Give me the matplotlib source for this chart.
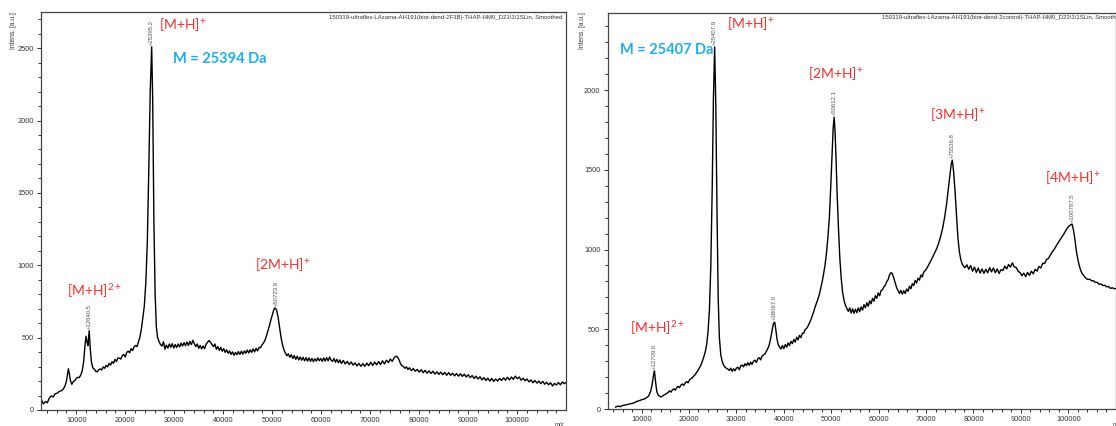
import matplotlib
matplotlib.use("Agg")
import matplotlib.pyplot as plt
from matplotlib.ticker import MultipleLocator

plt.rcParams['mathtext.fontset'] = 'custom'
plt.rcParams['mathtext.rm'] = 'Lato'
plt.rcParams['mathtext.bf'] = 'Lato:bold'

# ---------------- data: left spectrum (biot-dend-2F3B) ----------------
left_mz = [2900, 3300, 3700, 4100, 4500, 4900, 5300, 5700, 6100, 6500, 6900, 7300, 7700, 8000, 8200, 8400,
           8600, 8800, 9100, 9400, 9700, 10000, 10300, 10600, 10900, 11200, 11500, 11800, 12000, 12200, 12400,
           12640, 12850, 13100, 13400, 13700, 14000, 14300, 14600, 14900, 15200, 15500, 15800, 16100, 16400,
           16700, 17000, 17300, 17600, 17900, 18200, 18500, 18800, 19100, 19400, 19700, 20000, 20300, 20600,
           20900, 21200, 21500, 21800, 22100, 22400, 22700, 23000, 23300, 23600, 23900, 24200, 24500, 24800,
           25100, 25395, 25600, 25850, 26100, 26350, 26600, 26900, 27200, 27500, 27800, 28100, 28400, 28700,
           29000, 29300, 29600, 29900, 30200, 30500, 30800, 31100, 31400, 31700, 32000, 32300, 32600, 32900,
           33200, 33500, 33800, 34100, 34400, 34700, 35000, 35300, 35600, 35900, 36200, 36500, 36800, 37100,
           37400, 37700, 38000, 38300, 38600, 38900, 39200, 39500, 39800, 40100, 40400, 40700, 41000, 41300,
           41600, 41900, 42200, 42500, 42800, 43100, 43400, 43700, 44000, 44300, 44600, 44900, 45200, 45500,
           45800, 46100, 46400, 46700, 47000, 47300, 47600, 47900, 48200, 48500, 48800, 49100, 49400, 49700,
           50000, 50300, 50500, 50724, 50900, 51200, 51500, 51800, 52100, 52400, 52700, 53000, 53300, 53600,
           53900, 54200, 54500, 54800, 55100, 55400, 55700, 56000, 56300, 56600, 56900, 57200, 57500, 57800,
           58100, 58400, 58700, 59000, 59300, 59600, 59900, 60200, 60500, 60800, 61100, 61400, 61700, 62000,
           62300, 62600, 62900, 63200, 63500, 63800, 64100, 64500, 64900, 65300, 65700, 66100, 66500, 66900,
           67300, 67700, 68100, 68500, 68900, 69300, 69700, 70100, 70500, 70900, 71300, 71700, 72100, 72500,
           72900, 73300, 73700, 74100, 74500, 74900, 75300, 75600, 75900, 76200, 76500, 76800, 77100, 77400,
           77700, 78000, 78400, 78800, 79200, 79600, 80000, 80400, 80800, 81200, 81600, 82000, 82400, 82800,
           83200, 83600, 84000, 84400, 84800, 85200, 85600, 86000, 86400, 86800, 87200, 87600, 88000, 88400,
           88800, 89200, 89600, 90000, 90400, 90800, 91200, 91600, 92000, 92400, 92800, 93200, 93600, 94000,
           94400, 94800, 95200, 95600, 96000, 96400, 96800, 97200, 97600, 98000, 98400, 98800, 99200, 99600,
           100000, 100400, 100800, 101200, 101600, 102000, 102400, 102800, 103200, 103600, 104000, 104400,
           104800, 105200, 105600, 106000, 106400, 106800, 107200, 107600, 108000, 108400, 108800, 109200,
           109600, 110000]
left_int = [70, 42, 58, 50, 82, 98, 90, 112, 116, 128, 132, 142, 165, 200, 245, 285,
            250, 205, 178, 196, 203, 218, 226, 224, 240, 268, 330, 450, 510, 470, 445,
            548, 430, 330, 290, 282, 266, 264, 278, 284, 276, 298, 288, 308, 298,
            322, 310, 334, 322, 350, 334, 360, 358, 352, 376, 384, 366, 398, 406,
            396, 424, 410, 436, 446, 438, 472, 505, 560, 640, 720, 880, 1150, 1650,
            2200, 2510, 2150, 1300, 800, 575, 500, 472, 452, 442, 472, 420, 448, 428,
            456, 434, 458, 428, 452, 432, 456, 436, 462, 442, 466, 444, 470, 446,
            474, 452, 482, 458, 438, 456, 426, 446, 422, 442, 424, 454, 468, 480,
            468, 452, 438, 456, 420, 438, 412, 432, 406, 424, 398, 416, 392, 408,
            384, 402, 378, 398, 382, 404, 384, 406, 386, 408, 392, 414, 394, 416,
            398, 422, 402, 426, 408, 432, 430, 450, 462, 480, 510, 545, 580, 620,
            655, 690, 705, 700, 690, 640, 570, 500, 450, 415, 392, 375, 388, 364,
            382, 356, 376, 350, 372, 346, 366, 344, 364, 340, 362, 338, 360, 336,
            356, 334, 354, 338, 360, 340, 356, 336, 360, 338, 362, 340, 366, 344,
            336, 356, 330, 350, 326, 346, 322, 342, 318, 336, 314, 332, 310, 326,
            304, 322, 302, 320, 302, 324, 306, 330, 308, 332, 312, 334, 314, 340,
            318, 344, 328, 352, 336, 362, 372, 365, 345, 318, 305, 300, 288, 298,
            280, 292, 272, 286, 268, 280, 262, 278, 258, 274, 254, 270, 252, 268,
            248, 264, 246, 262, 244, 260, 240, 258, 240, 254, 236, 252, 234, 250,
            232, 248, 228, 244, 224, 238, 218, 234, 214, 230, 208, 224, 204, 220,
            200, 218, 198, 214, 200, 218, 204, 222, 206, 226, 208, 228, 212, 234,
            216, 228, 206, 220, 202, 214, 194, 208, 188, 204, 186, 200,
            182, 198, 178, 192, 174, 188, 166, 184, 172, 190, 174, 194,
            182, 192]

# ---------------- data: right spectrum (biot-dend-2control) ----------------
right_mz = [4500, 5000, 5500, 6000, 6500, 7000, 7500, 8000, 8500, 9000, 9500, 10000, 10500, 11000, 11500,
            11900, 12200, 12450, 12700, 12950, 13200, 13500, 13800, 14100, 14400, 14700, 15000, 15300, 15600,
            15900, 16200, 16500, 16800, 17100, 17400, 17700, 18000, 18300, 18600, 18900, 19200, 19500, 19800,
            20100, 20400, 20700, 21000, 21300, 21600, 21900, 22200, 22500, 22800, 23100, 23400, 23700, 24000,
            24300, 24600, 24900, 25150, 25408, 25650, 25900, 26150, 26400, 26700, 27000, 27300, 27600, 27900,
            28200, 28500, 28800, 29100, 29400, 29700, 30000, 30300, 30600, 30900, 31200, 31500, 31800, 32100,
            32400, 32700, 33000, 33300, 33600, 33900, 34200, 34500, 34800, 35100, 35400, 35700, 36000, 36300,
            36600, 36900, 37200, 37500, 37800, 38067, 38300, 38550, 38800, 39100, 39400, 39700, 40000, 40300,
            40600, 40900, 41200, 41500, 41800, 42100, 42400, 42700, 43000, 43300, 43600, 43900, 44200, 44500,
            44800, 45100, 45400, 45700, 46000, 46300, 46600, 46900, 47200, 47500, 47800, 48100, 48400, 48700,
            49000, 49300, 49600, 49900, 50200, 50400, 50612, 50800, 51000, 51200, 51500, 51800, 52100, 52400,
            52700, 53000, 53300, 53600, 53900, 54200, 54500, 54800, 55100, 55400, 55700, 56000, 56300, 56600,
            56900, 57200, 57500, 57800, 58100, 58400, 58700, 59000, 59300, 59600, 59900, 60200, 60500, 60800,
            61100, 61400, 61700, 62000, 62300, 62600, 62900, 63200, 63500, 63800, 64100, 64400, 64700, 65000,
            65300, 65600, 65900, 66200, 66500, 66800, 67100, 67400, 67700, 68000, 68300, 68600, 68900, 69200,
            69500, 69900, 70300, 70700, 71100, 71500, 71900, 72300, 72700, 73100, 73500, 73900, 74300, 74700,
            75000, 75300, 75527, 75800, 76100, 76400, 76700, 77000, 77300, 77600, 77900, 78200, 78600, 79000,
            79400, 79800, 80200, 80600, 81000, 81400, 81800, 82200, 82600, 83000, 83400, 83800, 84200, 84600,
            85000, 85400, 85800, 86200, 86600, 87000, 87400, 87800, 88200, 88600, 89000, 89400, 89800, 90200,
            90600, 91000, 91400, 91800, 92200, 92600, 93000, 93400, 93800, 94200, 94600, 95000, 95400, 95800,
            96200, 96600, 97000, 97400, 97800, 98200, 98600, 99000, 99400, 99800, 100200, 100500, 100787,
            101100, 101400, 101700, 102000, 102300, 102600, 102900, 103300, 103700, 104100, 104500, 104900,
            105300, 105700, 106100, 106500, 106900, 107300, 107700, 108100, 108500, 108900, 109300, 109700,
            110100, 110500, 110900]
right_int = [12, 18, 15, 22, 25, 28, 32, 35, 40, 48, 52, 58, 62, 70, 82,
             110, 150, 200, 240, 170, 110, 88, 80, 76, 80, 88, 92, 98, 104,
             114, 106, 120, 126, 118, 134, 142, 134, 150, 157, 148, 164, 172, 164,
             182, 190, 196, 207, 215, 230, 242, 258, 275, 298, 325, 355, 400, 480,
             620, 900, 1400, 1950, 2270, 1900, 1250, 700, 450, 340, 298, 275, 262, 255,
             250, 242, 256, 236, 252, 240, 256, 262, 246, 270, 276, 264, 284, 272,
             290, 274, 294, 280, 300, 306, 292, 314, 322, 308, 332, 338, 345, 362,
             378, 400, 440, 490, 535, 545, 500, 440, 405, 388, 376, 398, 378, 404,
             388, 414, 398, 424, 410, 436, 420, 450, 434, 462, 448, 474, 476, 498,
             505, 520, 540, 560, 585, 610, 640, 665, 690, 720, 760, 800, 850, 905,
             980, 1080, 1200, 1400, 1620, 1760, 1830, 1740, 1580, 1380, 1150, 950, 820, 730,
             680, 650, 630, 612, 634, 602, 628, 600, 626, 604, 634, 610, 640, 620,
             654, 634, 666, 644, 678, 660, 694, 676, 710, 694, 728, 710, 742, 748,
             766, 776, 798, 812, 842, 855, 848, 820, 790, 760, 742, 724, 744, 720,
             742, 724, 752, 738, 770, 754, 786, 774, 806, 790, 820, 808, 840, 828,
             858, 870, 890, 912, 935, 960, 985, 1010, 1045, 1085, 1135, 1200, 1280, 1380,
             1460, 1535, 1560, 1490, 1370, 1220, 1080, 990, 940, 910, 895, 886, 904, 876,
             900, 864, 890, 856, 884, 852, 878, 850, 876, 854, 886, 860, 884, 854,
             878, 850, 874, 868, 896, 878, 906, 890, 916, 890, 888, 864, 856, 836,
             852, 830, 856, 838, 864, 848, 876, 864, 894, 884, 914, 912, 938, 944,
             965, 985, 1000, 1020, 1040, 1058, 1075, 1095, 1115, 1135, 1148, 1155, 1160,
             1120, 1060, 990, 940, 900, 870, 850, 835, 820, 812, 814, 804,
             804, 794, 794, 782, 784, 774, 776, 766, 768, 756, 760, 754,
             756, 750, 755]

# peak labels (m/z value, intensity at label)
left_peaks = [12640.5, 25395.2, 50723.9]
left_peak_int = [548, 2510, 705]
right_peaks = [12709.6, 25407.9, 38067.0, 50612.1, 75526.8, 100787.5]
right_peak_int = [240, 2270, 545, 1830, 1560, 1160]

left_title = r"150319-ultraflex-LAzama-AH191(biot-dend-2F3B)-THAP-HM0_D21\1\1SLin, Smoothed"
right_title = r"150319-ultraflex-LAzama-AH191(biot-dend-2control)-THAP-HM0_D23\1\1SLin, Smoothed"

W, H = 1116, 426
fig = plt.figure(figsize=(W / 100, H / 100), dpi=100)


def fx(px):
    return px / W


def fy(py):
    return 1 - py / H


ax1 = fig.add_axes([fx(41.3), fy(410), fx(566 - 41.3), (410 - 12) / H])
ax2 = fig.add_axes([fx(607.7), fy(409), fx(1115.5 - 607.7), (409 - 13) / H])

for ax, mz, it, xl, yl in [(ax1, left_mz, left_int, (2870, 109950), (0, 2750)),
                           (ax2, right_mz, right_int, (2850, 109950), (0, 2483))]:
    ax.plot(mz, it, color='black', lw=1.0)
    ax.set_xlim(*xl)
    ax.set_ylim(*yl)
    ax.xaxis.set_major_locator(MultipleLocator(10000))
    ax.xaxis.set_minor_locator(MultipleLocator(2000))
    ax.yaxis.set_major_locator(MultipleLocator(500))
    ax.yaxis.set_minor_locator(MultipleLocator(100))
    ax.tick_params(which='both', direction='out', color='#333333', width=0.7,
                   labelsize=5.3, labelcolor='#333333', pad=2)
    ax.tick_params(which='major', length=3.2)
    ax.tick_params(which='minor', length=2.2)
    for lab in ax.get_xticklabels() + ax.get_yticklabels():
        lab.set_family('Liberation Sans')
    for s in ax.spines.values():
        s.set_color('#444444')
        s.set_linewidth(0.9)

# peak mass labels
for ax, pk, pi in [(ax1, left_peaks, left_peak_int), (ax2, right_peaks, right_peak_int)]:
    for m, v in zip(pk, pi):
        ax.annotate('+' + f"{m:.1f}", xy=(m, v), xytext=(0, 1.5), textcoords='offset points',
                    rotation=90, ha='center', va='bottom', fontsize=4.3, color='#555555',
                    family='Liberation Sans')

# header texts
fig.text(fx(562.7), fy(18), left_title, ha='right', va='center', fontsize=4.3,
         family='Liberation Sans', color='#333333')
fig.text(fx(881.7), fy(18), right_title, ha='left', va='center', fontsize=4.3,
         family='Liberation Sans', color='#333333')

# y labels
fig.text(fx(13.5), fy(12), 'Intens. [a.u.]', rotation=90, ha='center', va='top', fontsize=4.8,
         family='Liberation Sans', color='#333333')
fig.text(fx(583), fy(12), 'Intens. [a.u.]', rotation=90, ha='center', va='top', fontsize=4.8,
         family='Liberation Sans', color='#333333')
fig.text(fx(559), fy(425), 'm/z', ha='center', va='center', fontsize=4.3,
         family='Liberation Sans', color='#333333')
fig.text(fx(1113), fy(425), 'm/z', ha='left', va='center', fontsize=4.3,
         family='Liberation Sans', color='#333333')

red = '#FF2A2A'
blue = '#1AB0EE'
ion = dict(color=red, fontsize=10, family='Lato', va='center', ha='left')
fig.text(fx(159), fy(25), r'[M+H]$^{+}$', **ion)
fig.text(fx(67), fy(291), r'[M+H]$^{2+}$', **ion)
fig.text(fx(255), fy(265), r'[2M+H]$^{+}$', **ion)
fig.text(fx(727), fy(24), r'[M+H]$^{+}$', **ion)
fig.text(fx(808), fy(74), r'[2M+H]$^{+}$', **ion)
fig.text(fx(930), fy(115), r'[3M+H]$^{+}$', **ion)
fig.text(fx(1045), fy(178), r'[4M+H]$^{+}$', **ion)
fig.text(fx(630), fy(328), r'[M+H]$^{2+}$', **ion)

fig.text(fx(173), fy(59), 'M = 25394 Da', color=blue, fontsize=10.5, family='Lato',
         fontweight='bold', va='center', ha='left')
fig.text(fx(620), fy(50), 'M = 25407 Da', color=blue, fontsize=10.5, family='Lato',
         fontweight='bold', va='center', ha='left')

fig.savefig('out.png', dpi=100)
